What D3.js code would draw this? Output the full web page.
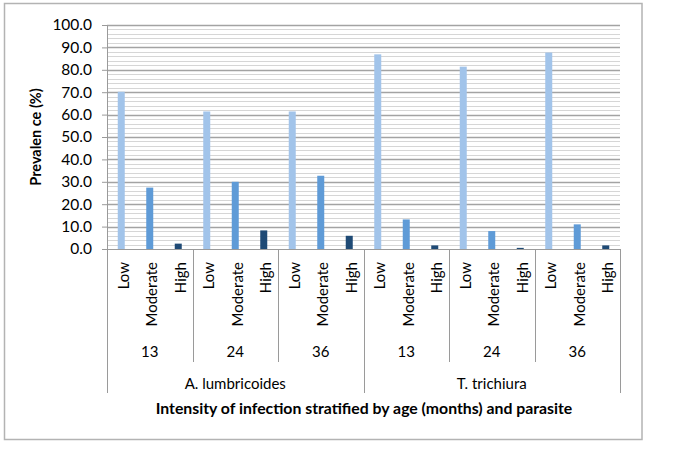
<!DOCTYPE html>
<html>
<head>
<meta charset="utf-8">
<script src="https://cdn.jsdelivr.net/npm/d3@7"></script>
<style>
  html, body { margin: 0; padding: 0; background: #fff; }
  svg { display: block; font-family: Lato, "Open Sans", sans-serif; }
</style>
</head>
<body>
<svg id="chart" width="674" height="453"></svg>
<script>
// ---- data ----
const parasites = ["A. lumbricoides", "T. trichiura"];
const ages = ["13", "24", "36"];
const intensities = ["Low", "Moderate", "High"];
// prevalence (%) per parasite, per age, per intensity (Low, Moderate, High)
const ascarisValues = [
  [70.2, 27.4, 2.4],
  [61.4, 30.0, 8.3],
  [61.4, 32.7, 5.9]
];
const trichurisValues = [
  [86.9, 13.2, 1.6],
  [81.4, 8.0, 0.5],
  [87.7, 11.0, 1.6]
];
const yTicks = [0, 10, 20, 30, 40, 50, 60, 70, 80, 90, 100];
const yMinorTicks = d3.range(0, 101, 2);
const colors = ["#a2c4ea", "#5f9bd7", "#1f4a75"];

const valuesByParasite = [ascarisValues, trichurisValues];
const rows = [];
parasites.forEach((p, pi) => ages.forEach((a, ai) => intensities.forEach((it, ii) => {
  rows.push({ id: `${pi}-${ai}-${ii}`, parasite: p, age: a, intensity: it, ii, value: valuesByParasite[pi][ai][ii] });
})));

// ---- layout ----
const svg = d3.select("#chart");
const pLeft = 107, pRight = 620, pTop = 25, pBottom = 249;

const x = d3.scaleBand().domain(rows.map(d => d.id)).range([pLeft, pRight]).padding(0);
const y = d3.scaleLinear().domain([0, 100]).range([pBottom, pTop]);
const barW = 7;

// frame
svg.append("rect").attr("x", 4.5).attr("y", 3.5).attr("width", 637.5).attr("height", 436)
  .attr("fill", "none").attr("stroke", "#b3b3b3").attr("stroke-width", 1.5);

// minor gridlines
svg.append("g").selectAll("line").data(yMinorTicks.filter(v => v % 10 !== 0)).join("line")
  .attr("x1", pLeft).attr("x2", pRight)
  .attr("y1", d => Math.round(y(d)) + 0.5).attr("y2", d => Math.round(y(d)) + 0.5)
  .attr("stroke", "#d6d6d6").attr("stroke-width", 1);
// major gridlines
svg.append("g").selectAll("line").data(yTicks.filter(v => v > 0)).join("line")
  .attr("x1", pLeft).attr("x2", pRight)
  .attr("y1", d => Math.round(y(d)) + 0.5).attr("y2", d => Math.round(y(d)) + 0.5)
  .attr("stroke", "#a3a3a3").attr("stroke-width", 1.4);

// y axis
const yAxis = d3.axisLeft(y).tickValues(yTicks).tickFormat(d3.format(".1f")).tickSize(5).tickPadding(10);
const gy = svg.append("g").attr("transform", `translate(${pLeft},0)`).call(yAxis);
gy.select(".domain").attr("stroke", "#9a9a9a");
gy.selectAll(".tick line").attr("stroke", "#9a9a9a");
gy.selectAll(".tick text").attr("fill", "#000").style("font-size", "15.5px").style("font-family", "Lato, sans-serif");

// bars
svg.append("g").selectAll("rect").data(rows).join("rect")
  .attr("x", d => x(d.id) + x.bandwidth() / 2 - barW / 2)
  .attr("width", barW)
  .attr("y", d => y(d.value))
  .attr("height", d => y(0) - y(d.value))
  .attr("fill", d => colors[d.ii]);

// x axis line
svg.append("line").attr("x1", pLeft).attr("x2", pRight).attr("y1", pBottom + 0.5).attr("y2", pBottom + 0.5)
  .attr("stroke", "#9a9a9a");

// intensity labels
svg.append("g").selectAll("text").data(rows).join("text")
  .attr("transform", d => `translate(${x(d.id) + x.bandwidth() / 2 + 2},262) rotate(-90)`)
  .attr("text-anchor", "end").attr("dy", "0.36em")
  .style("font-size", "15px").text(d => d.intensity);

// group separators
const step = x.step();
const innerSep = [], outerSep = [];
for (let i = 0; i <= 18; i += 3) {
  if (i % 9 === 0) outerSep.push(pLeft + i * step); else innerSep.push(pLeft + i * step);
}
svg.append("g").selectAll("line").data(innerSep).join("line")
  .attr("x1", d => Math.round(d) + 0.5).attr("x2", d => Math.round(d) + 0.5)
  .attr("y1", pBottom).attr("y2", 362).attr("stroke", "#9a9a9a");
svg.append("g").selectAll("line").data(outerSep).join("line")
  .attr("x1", d => Math.round(d) + 0.5).attr("x2", d => Math.round(d) + 0.5)
  .attr("y1", pBottom).attr("y2", 393).attr("stroke", "#9a9a9a");

// age labels
const ageRows = [];
parasites.forEach((p, pi) => ages.forEach((a, ai) => ageRows.push({ a, idx: pi * 3 + ai })));
svg.append("g").selectAll("text").data(ageRows).join("text")
  .attr("x", d => pLeft + (d.idx * 3 + 1.5) * step).attr("y", 352).attr("dy", "0.35em")
  .attr("text-anchor", "middle").style("font-size", "15px").text(d => d.a);

// parasite labels
svg.append("g").selectAll("text").data(parasites).join("text")
  .attr("x", (d, i) => pLeft + (i * 9 + 4.5) * step).attr("y", 384).attr("dy", "0.35em")
  .attr("text-anchor", "middle").style("font-size", "15px").text(d => d);

// x title
svg.append("text").attr("x", 364).attr("y", 408).attr("dy", "0.35em")
  .attr("text-anchor", "middle").style("font-size", "15.8px").style("font-weight", "bold")
  .text("Intensity of infection stratified by age (months) and parasite");

// y title
svg.append("text").attr("transform", `translate(36,${(pTop + pBottom) / 2}) rotate(-90)`)
  .attr("text-anchor", "middle").attr("dy", "0.35em")
  .style("font-size", "14.5px").style("font-weight", "bold").text("Prevalen ce (%)");
</script>
</body>
</html>
